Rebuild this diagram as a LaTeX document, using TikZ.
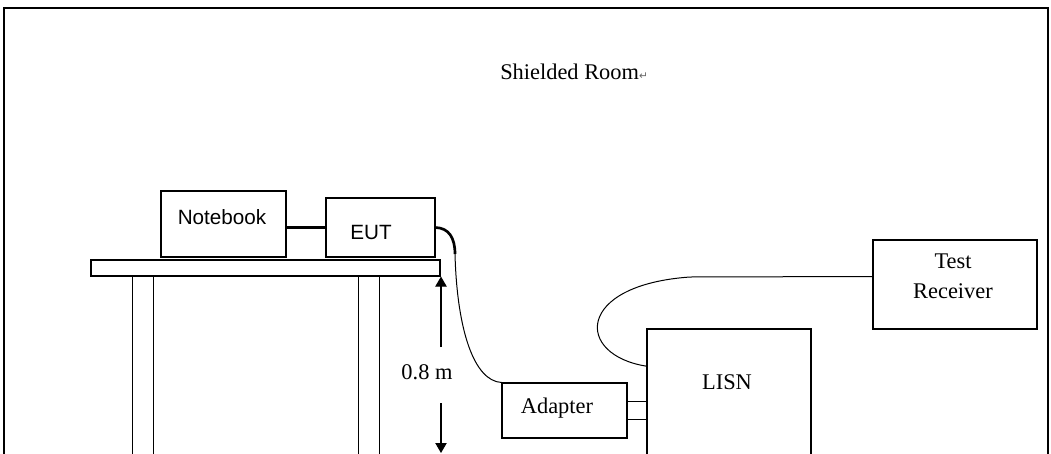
\documentclass[tikz,border=0pt]{standalone}
\usepackage{fontspec}
\setmainfont{Liberation Serif}
\newfontfamily\arialfont{Liberation Sans}
\newfontfamily\dejavu{DejaVu Sans}
\usetikzlibrary{arrows.meta,calc}
\begin{document}
\begin{tikzpicture}[x=0.75pt,y=-0.75pt,
  box/.style={draw,line width=0.8pt,inner sep=0pt},
  serif/.style={font=\fontsize{16.8}{22.5}\selectfont,inner sep=0pt},
  sans/.style={font=\arialfont\fontsize{15.5}{18}\selectfont,inner sep=0pt},
  thin/.style={line width=0.75pt},
  dim/.style={line width=0.8pt,-{Triangle[length=7.5pt,width=8.5pt]}}]
\useasboundingbox (0,0) rectangle (1051,454);
\clip (0,0) rectangle (1051,454);
% shielded room frame
\draw[line width=1.4pt] (4,480) -- (4,8) -- (1048,8) -- (1048,480);
\node[serif,anchor=west] (room) at (500,72) {Shielded Room{\dejavu\fontsize{8}{9}\selectfont\color{black!60}↵}};
% table
\node[box,minimum width=261.75pt,minimum height=12pt] (tt) at (265.5,268) {};
\draw[thin] (132,276) rectangle (153,480);
\draw[thin] (358,276) rectangle (379,480);
% notebook and EUT
\node[box,minimum width=93.75pt,minimum height=49.5pt] (nb) at (223.5,224) {};
\node[sans] (nbt) at (222,217) {Notebook};
\node[box,minimum width=81.75pt,minimum height=44.25pt] (eut) at (380.5,227.5) {};
\node[sans] (eutt) at (371,232) {EUT};
\draw[line width=2.2pt] (nb.east |- eut.west) -- (eut.west);
% adapter
\node[box,minimum width=93.75pt,minimum height=41.25pt] (adp) at (564.5,410.5) {};
\node[serif] (adpt) at (557,408) {Adapter};
% LISN
\node[box,minimum width=123pt,minimum height=105.75pt] (lisn) at (729,399.5) {};
\node[serif] (lisnt) at (727,382) {LISN};
% receiver
\node[box,minimum width=123pt,minimum height=66.75pt] (rx) at (955,284.5) {};
\node[serif,align=center] (rxt) at (953,276) {Test\\Receiver};
% EUT cable
\coordinate (j) at (455,254);
\draw[line width=2pt] (eut.east) .. controls (449,228) and (455,238) .. (j);
\draw[thin] (j) .. controls (457,330) and (474,381) .. (adp.north west);
% adapter to LISN
\coordinate (a1) at ([yshift=6.4pt]adp.east);
\coordinate (a2) at ([yshift=-6.4pt]adp.east);
\draw[thin] (a1) -- (a1 -| lisn.west);
\draw[thin] (a2) -- (a2 -| lisn.west);
% LISN to receiver
\coordinate (l1) at ([yshift=25pt]lisn.west);
\coordinate (r1) at ([yshift=6pt]rx.west);
\draw[thin] (l1) .. controls (575,355) and (575,285) .. (690,277) -- (r1);
% height dimension
\coordinate (d1) at (441,347);
\coordinate (d2) at (441,403);
\coordinate (fl) at (441,453);
\draw[dim] (d1) -- (d1 |- tt.south);
\draw[dim] (d2) -- (fl);
\node[serif] (h) at (427,372) {0.8 m};
\end{tikzpicture}
\end{document}
